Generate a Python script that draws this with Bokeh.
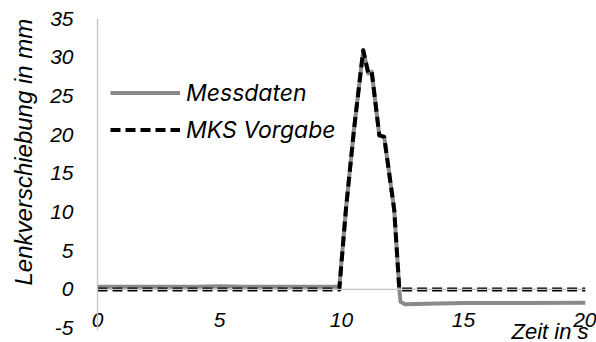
from bokeh.embed import file_html
from bokeh.models import ColumnDataSource, FixedTicker, Legend, LegendItem, Span, Title
from bokeh.plotting import figure
from bokeh.resources import INLINE

# Time axis (s) and steering rack displacement (mm)
mess_t = [0.0, 2.0, 4.0, 5.0, 6.0, 8.0, 9.91, 10.18, 10.51, 10.89, 11.10, 11.24,
          11.55, 11.75, 12.16, 12.37, 12.42, 12.6, 13.5, 15.0, 17.0, 20.0]
mess_v = [0.35, 0.35, 0.35, 0.4, 0.35, 0.35, 0.35, 10.3, 20.6, 30.9, 27.9, 28.1,
          19.9, 19.7, 10.3, 0.0, -1.6, -1.9, -1.85, -1.75, -1.75, -1.7]

mks_t = [0.0, 9.91, 10.18, 10.51, 10.89, 11.10, 11.24, 11.55, 11.75, 12.16, 12.37, 20.0]
mks_v = [0.0, 0.0, 10.3, 20.6, 30.9, 27.9, 28.1, 19.9, 19.7, 10.3, 0.0, 0.0]

x_ticks = [0, 5, 10, 15, 20]
y_ticks = [-5, 0, 5, 10, 15, 20, 25, 30, 35]

series_names = ["Messdaten", "MKS Vorgabe"]
x_title = "Zeit in s"
y_title = "Lenkverschiebung in mm"

TICK_FONT = "Liberation Sans"
AXIS_GREY = "#c4c4c4"

# frame: 97..585 px horizontally, 18..330 px vertically
p = figure(
    width=596, height=342,
    x_range=(0, 20), y_range=(-5.3, 35),
    output_backend="svg", toolbar_location=None,
    min_border_left=97, min_border_right=11,
    min_border_top=18, min_border_bottom=12,
)
p.outline_line_color = None
p.xgrid.visible = False
p.ygrid.visible = False

p.xaxis.ticker = FixedTicker(ticks=x_ticks)
p.yaxis.ticker = FixedTicker(ticks=y_ticks)
p.yaxis.major_label_overrides = {t: str(t) for t in y_ticks}
for ax in (p.xaxis[0], p.yaxis[0]):
    ax.axis_line_color = AXIS_GREY
    ax.axis_line_width = 1.3
    ax.major_tick_line_color = None
    ax.minor_tick_line_color = None
    ax.major_tick_in = 0
    ax.major_tick_out = 0
    ax.major_label_text_font = TICK_FONT
    ax.major_label_text_font_style = "italic"
    ax.major_label_text_font_size = "21px"
    ax.major_label_text_color = "#000000"

# x labels sit low, overlapping the bottom of the plot area
p.xaxis.axis_line_color = None
p.xaxis.major_label_standoff = -18
p.yaxis.major_label_standoff = 24

# axis titles
p.add_layout(Title(text=x_title, align="right", offset=-3, standoff=-24,
                   vertical_align="top",
                   text_font=TICK_FONT, text_font_style="italic",
                   text_font_size="22px", text_color="#000000"), "below")
p.add_layout(Title(text=y_title, align="left", offset=45, standoff=17,
                   vertical_align="top",
                   text_font=TICK_FONT, text_font_style="italic",
                   text_font_size="24px", text_color="#000000"), "left")

# horizontal axis line through zero
p.add_layout(Span(location=0, dimension="width", line_color=AXIS_GREY, line_width=1.3))

src_mess = ColumnDataSource(dict(t=mess_t, v=mess_v))
src_mks = ColumnDataSource(dict(t=mks_t, v=mks_v))

r_mess = p.line("t", "v", source=src_mess, line_color="#8a8a8a", line_width=4,
                line_join="round")
r_mks = p.line("t", "v", source=src_mks, line_color="#000000", line_width=4,
               line_dash="10 5", line_join="round")

legend = Legend(
    items=[LegendItem(label=series_names[0], renderers=[r_mess]),
           LegendItem(label=series_names[1], renderers=[r_mks])],
    location=(13, 182),
    padding=0, margin=0, spacing=0,
    border_line_color=None, background_fill_alpha=0,
    glyph_width=70, glyph_height=37, label_standoff=6,
    label_text_font="Inter", label_text_font_style="italic",
    label_text_font_size="23px", label_text_color="#000000",
    label_text_baseline="middle",
)
p.add_layout(legend)

open("out.html", "w").write(file_html(p, INLINE))
